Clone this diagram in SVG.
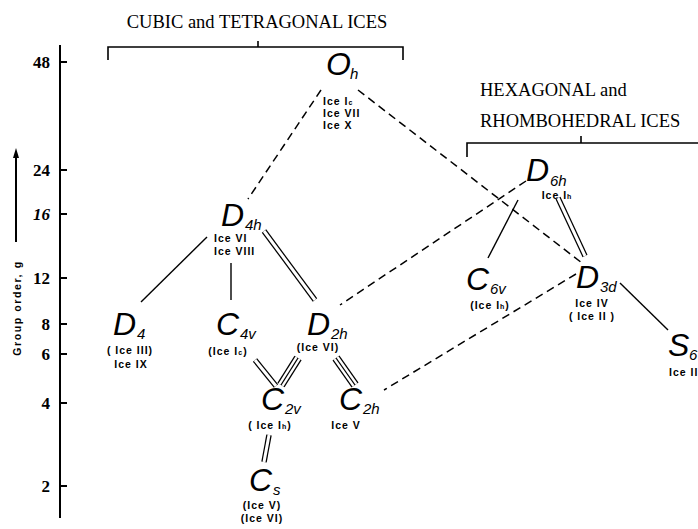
<svg xmlns="http://www.w3.org/2000/svg" width="698" height="529" viewBox="0 0 698 529">
<style>
.ax{stroke:#000;stroke-width:2;fill:none}
.tk{font-family:"Liberation Serif",serif;font-weight:bold;font-size:17px;fill:#000;text-anchor:end}
.hd{font-family:"Liberation Serif",serif;font-size:18.5px;fill:#000}
.br{stroke:#000;stroke-width:1.6;fill:none}
.sym{font-family:"Liberation Sans",sans-serif;font-style:italic;font-size:32px;fill:#000}
.sub{font-family:"Liberation Sans",sans-serif;font-style:italic;font-size:15px;fill:#000}
.ice{font-family:"Liberation Sans",sans-serif;font-weight:bold;font-size:10.5px;fill:#000;text-anchor:middle;letter-spacing:1px}
.l{text-anchor:start}
.sm{font-size:7px}
.dash{stroke:#000;stroke-width:1.5;stroke-dasharray:8 5;fill:none}
.sol{stroke:#000;stroke-width:1.4;fill:none}
.d1{stroke:#000;stroke-width:5.5;fill:none}
.d2{stroke:#fff;stroke-width:3;fill:none}
.t1{stroke:#000;stroke-width:8.5;fill:none}
.t2{stroke:#fff;stroke-width:6;fill:none}
.t3{stroke:#000;stroke-width:1.3;fill:none}
</style>
<rect width="698" height="529" fill="#fff"/>
<g id="axis">
<line class="ax" x1="60" y1="45" x2="60" y2="518"/>
<g class="ax" stroke-width="1.5">
<line x1="60" y1="62" x2="67" y2="62"/>
<line x1="60" y1="170" x2="67" y2="170"/>
<line x1="60" y1="214" x2="67" y2="214"/>
<line x1="60" y1="278" x2="67" y2="278"/>
<line x1="60" y1="324" x2="67" y2="324"/>
<line x1="60" y1="354" x2="67" y2="354"/>
<line x1="60" y1="403" x2="67" y2="403"/>
<line x1="60" y1="486" x2="67" y2="486"/>
</g>
<text class="tk" x="50" y="68">48</text>
<text class="tk" x="50" y="176">24</text>
<text class="tk" x="50" y="220" font-style="italic">16</text>
<text class="tk" x="50" y="284">12</text>
<text class="tk" x="50" y="330">8</text>
<text class="tk" x="50" y="360">6</text>
<text class="tk" x="50" y="409">4</text>
<text class="tk" x="50" y="492">2</text>
<line x1="16" y1="242" x2="16" y2="156" stroke="#000" stroke-width="2"/>
<polygon points="16,148 13,158 19,158" fill="#000"/>
<text transform="translate(21,308) rotate(-90)" font-family="Liberation Sans,sans-serif" font-weight="bold" font-size="10.5px" letter-spacing="1.6" text-anchor="middle">Group  order, g</text>
</g>
<g id="bracket-cubic">
<text class="hd" x="257" y="28" text-anchor="middle">CUBIC and TETRAGONAL ICES</text>
<path class="br" d="M108,60 V47 H403 V60 M258,47 V41"/>
</g>
<g id="bracket-hex">
<text class="hd" x="480" y="96">HEXAGONAL and</text>
<text class="hd" x="480" y="127">RHOMBOHEDRAL ICES</text>
<path class="br" d="M467,157 V143 H698 M581,143 V136"/>
</g>
<g id="connectors">
<line class="dash" x1="321" y1="90" x2="248" y2="199"/>
<line class="dash" x1="358" y1="90" x2="582" y2="263"/>
<line class="dash" x1="526" y1="181" x2="340" y2="305"/>
<line class="dash" x1="576" y1="274" x2="384" y2="390"/>
<line class="sol" x1="518" y1="200" x2="488" y2="258"/>
<line class="sol" x1="620" y1="283" x2="668" y2="330"/>
<line class="sol" x1="207" y1="237" x2="141" y2="302"/>
<line class="sol" x1="231" y1="263" x2="231" y2="300"/>
<line class="d1" x1="558" y1="198" x2="585" y2="256"/><line class="d2" x1="558" y1="198" x2="585" y2="256"/>
<line class="d1" x1="264" y1="231" x2="315" y2="300"/><line class="d2" x1="264" y1="231" x2="315" y2="300"/>
<line class="d1" x1="255" y1="360" x2="276" y2="386"/><line class="d2" x1="255" y1="360" x2="276" y2="386"/>
<line class="d1" x1="269" y1="435" x2="264" y2="462"/><line class="d2" x1="269" y1="435" x2="264" y2="462"/>
<line class="t1" x1="298" y1="358" x2="281" y2="385"/><line class="t2" x1="298" y1="358" x2="281" y2="385"/><line class="t3" x1="298" y1="358" x2="281" y2="385"/>
<line class="t1" x1="336" y1="358" x2="355" y2="385"/><line class="t2" x1="336" y1="358" x2="355" y2="385"/><line class="t3" x1="336" y1="358" x2="355" y2="385"/>
</g>
<g id="Oh">
<text class="sym" x="326" y="75">O</text><text class="sub" x="350" y="79">h</text>
<text class="ice l" x="323" y="105">Ice I<tspan class="sm">c</tspan></text>
<text class="ice l" x="323" y="117">Ice VII</text>
<text class="ice l" x="323" y="129">Ice X</text>
</g>
<g id="D4h">
<text class="sym" x="221" y="226">D</text><text class="sub" x="245" y="230">4h</text>
<text class="ice l" x="214" y="242">Ice VI</text>
<text class="ice l" x="214" y="255">Ice VIII</text>
</g>
<g id="D6h">
<text class="sym" x="526" y="181">D</text><text class="sub" x="550" y="186">6h</text>
<text class="ice" x="557" y="199">Ice I<tspan class="sm">h</tspan></text>
</g>
<g id="D4">
<text class="sym" x="113" y="335">D</text><text class="sub" x="137" y="339">4</text>
<text class="ice" x="130" y="354">( Ice III)</text>
<text class="ice" x="131" y="368">Ice IX</text>
</g>
<g id="C4v">
<text class="sym" x="216" y="335">C</text><text class="sub" x="240" y="339">4v</text>
<text class="ice" x="228" y="355">(Ice I<tspan class="sm">c</tspan>)</text>
</g>
<g id="D2h">
<text class="sym" x="307" y="335">D</text><text class="sub" x="331" y="339">2h</text>
<text class="ice" x="318" y="351">(Ice VI)</text>
</g>
<g id="C6v">
<text class="sym" x="466" y="290">C</text><text class="sub" x="490" y="294">6v</text>
<text class="ice" x="490" y="309">(Ice I<tspan class="sm">h</tspan>)</text>
</g>
<g id="D3d">
<text class="sym" x="576" y="288">D</text><text class="sub" x="600" y="292">3d</text>
<text class="ice" x="592" y="307">Ice IV</text>
<text class="ice" x="592" y="320">( Ice II )</text>
</g>
<g id="S6">
<text class="sym" x="668" y="356">S</text><text class="sub" x="689" y="360">6</text>
<text class="ice l" x="669" y="376">Ice II</text>
</g>
<g id="C2v">
<text class="sym" x="261" y="410">C</text><text class="sub" x="285" y="414">2v</text>
<text class="ice" x="270" y="429">( Ice I<tspan class="sm">h</tspan>)</text>
</g>
<g id="C2h">
<text class="sym" x="339" y="410">C</text><text class="sub" x="363" y="414">2h</text>
<text class="ice" x="346" y="429">Ice V</text>
</g>
<g id="Cs">
<text class="sym" x="249" y="491">C</text><text class="sub" x="273" y="495">s</text>
<text class="ice" x="262" y="509">(Ice V)</text>
<text class="ice" x="262" y="522">(Ice VI)</text>
</g>
</svg>
